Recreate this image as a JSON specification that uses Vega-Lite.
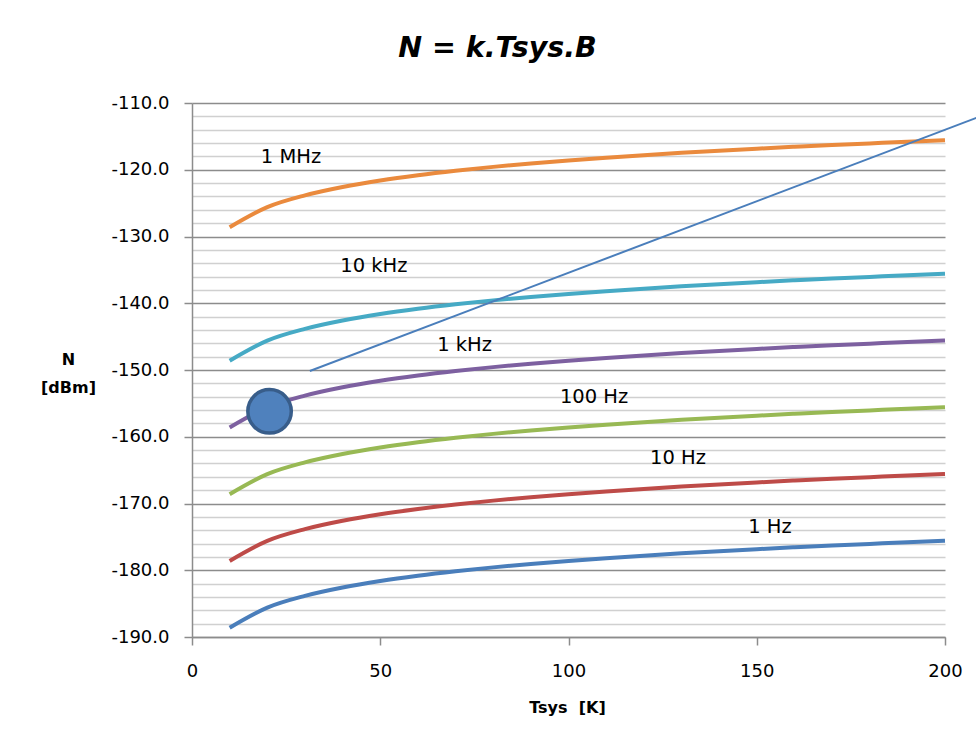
{
  "$schema": "https://vega.github.io/schema/vega-lite/v6.json",
  "width": 753,
  "height": 534,
  "autosize": "none",
  "padding": {"left": 192, "top": 103, "right": 31, "bottom": 104},
  "background": "white",
  "title": {"text": "N = k.Tsys.B", "font": "DejaVu Sans", "fontSize": 28.5, "fontWeight": "bold", "fontStyle": "italic", "anchor": "middle", "dx": -71, "offset": 9, "baseline": "alphabetic", "color": "#000000"},
  "config": {
    "view": {"stroke": null},
    "axis": {"labelFont": "DejaVu Sans", "labelFontSize": 18, "labelColor": "#000000", "titleFont": "DejaVu Sans", "titleFontSize": 16, "titleFontWeight": "bold", "titleColor": "#000000", "domainColor": "#8c8c8c", "domainWidth": 1.5, "tickColor": "#8c8c8c", "tickWidth": 1.5, "tickSize": 8, "labelFlush": false, "labelOverlap": false}
  },
  "datasets": {
    "curves": [
      {"T":10,"B":"1 Hz","N":-188.60},{"T":20,"B":"1 Hz","N":-185.59},{"T":30,"B":"1 Hz","N":-183.83},{"T":40,"B":"1 Hz","N":-182.58},{"T":50,"B":"1 Hz","N":-181.61},{"T":60,"B":"1 Hz","N":-180.82},{"T":70,"B":"1 Hz","N":-180.15},{"T":80,"B":"1 Hz","N":-179.57},{"T":90,"B":"1 Hz","N":-179.06},{"T":100,"B":"1 Hz","N":-178.60},{"T":110,"B":"1 Hz","N":-178.19},{"T":120,"B":"1 Hz","N":-177.81},{"T":130,"B":"1 Hz","N":-177.46},{"T":140,"B":"1 Hz","N":-177.14},{"T":150,"B":"1 Hz","N":-176.84},{"T":160,"B":"1 Hz","N":-176.56},{"T":170,"B":"1 Hz","N":-176.29},{"T":180,"B":"1 Hz","N":-176.05},{"T":190,"B":"1 Hz","N":-175.81},{"T":200,"B":"1 Hz","N":-175.59},
      {"T":10,"B":"10 Hz","N":-178.60},{"T":20,"B":"10 Hz","N":-175.59},{"T":30,"B":"10 Hz","N":-173.83},{"T":40,"B":"10 Hz","N":-172.58},{"T":50,"B":"10 Hz","N":-171.61},{"T":60,"B":"10 Hz","N":-170.82},{"T":70,"B":"10 Hz","N":-170.15},{"T":80,"B":"10 Hz","N":-169.57},{"T":90,"B":"10 Hz","N":-169.06},{"T":100,"B":"10 Hz","N":-168.60},{"T":110,"B":"10 Hz","N":-168.19},{"T":120,"B":"10 Hz","N":-167.81},{"T":130,"B":"10 Hz","N":-167.46},{"T":140,"B":"10 Hz","N":-167.14},{"T":150,"B":"10 Hz","N":-166.84},{"T":160,"B":"10 Hz","N":-166.56},{"T":170,"B":"10 Hz","N":-166.29},{"T":180,"B":"10 Hz","N":-166.05},{"T":190,"B":"10 Hz","N":-165.81},{"T":200,"B":"10 Hz","N":-165.59},
      {"T":10,"B":"100 Hz","N":-168.60},{"T":20,"B":"100 Hz","N":-165.59},{"T":30,"B":"100 Hz","N":-163.83},{"T":40,"B":"100 Hz","N":-162.58},{"T":50,"B":"100 Hz","N":-161.61},{"T":60,"B":"100 Hz","N":-160.82},{"T":70,"B":"100 Hz","N":-160.15},{"T":80,"B":"100 Hz","N":-159.57},{"T":90,"B":"100 Hz","N":-159.06},{"T":100,"B":"100 Hz","N":-158.60},{"T":110,"B":"100 Hz","N":-158.19},{"T":120,"B":"100 Hz","N":-157.81},{"T":130,"B":"100 Hz","N":-157.46},{"T":140,"B":"100 Hz","N":-157.14},{"T":150,"B":"100 Hz","N":-156.84},{"T":160,"B":"100 Hz","N":-156.56},{"T":170,"B":"100 Hz","N":-156.29},{"T":180,"B":"100 Hz","N":-156.05},{"T":190,"B":"100 Hz","N":-155.81},{"T":200,"B":"100 Hz","N":-155.59},
      {"T":10,"B":"1 kHz","N":-158.60},{"T":20,"B":"1 kHz","N":-155.59},{"T":30,"B":"1 kHz","N":-153.83},{"T":40,"B":"1 kHz","N":-152.58},{"T":50,"B":"1 kHz","N":-151.61},{"T":60,"B":"1 kHz","N":-150.82},{"T":70,"B":"1 kHz","N":-150.15},{"T":80,"B":"1 kHz","N":-149.57},{"T":90,"B":"1 kHz","N":-149.06},{"T":100,"B":"1 kHz","N":-148.60},{"T":110,"B":"1 kHz","N":-148.19},{"T":120,"B":"1 kHz","N":-147.81},{"T":130,"B":"1 kHz","N":-147.46},{"T":140,"B":"1 kHz","N":-147.14},{"T":150,"B":"1 kHz","N":-146.84},{"T":160,"B":"1 kHz","N":-146.56},{"T":170,"B":"1 kHz","N":-146.29},{"T":180,"B":"1 kHz","N":-146.05},{"T":190,"B":"1 kHz","N":-145.81},{"T":200,"B":"1 kHz","N":-145.59},
      {"T":10,"B":"10 kHz","N":-148.60},{"T":20,"B":"10 kHz","N":-145.59},{"T":30,"B":"10 kHz","N":-143.83},{"T":40,"B":"10 kHz","N":-142.58},{"T":50,"B":"10 kHz","N":-141.61},{"T":60,"B":"10 kHz","N":-140.82},{"T":70,"B":"10 kHz","N":-140.15},{"T":80,"B":"10 kHz","N":-139.57},{"T":90,"B":"10 kHz","N":-139.06},{"T":100,"B":"10 kHz","N":-138.60},{"T":110,"B":"10 kHz","N":-138.19},{"T":120,"B":"10 kHz","N":-137.81},{"T":130,"B":"10 kHz","N":-137.46},{"T":140,"B":"10 kHz","N":-137.14},{"T":150,"B":"10 kHz","N":-136.84},{"T":160,"B":"10 kHz","N":-136.56},{"T":170,"B":"10 kHz","N":-136.29},{"T":180,"B":"10 kHz","N":-136.05},{"T":190,"B":"10 kHz","N":-135.81},{"T":200,"B":"10 kHz","N":-135.59},
      {"T":10,"B":"1 MHz","N":-128.60},{"T":20,"B":"1 MHz","N":-125.59},{"T":30,"B":"1 MHz","N":-123.83},{"T":40,"B":"1 MHz","N":-122.58},{"T":50,"B":"1 MHz","N":-121.61},{"T":60,"B":"1 MHz","N":-120.82},{"T":70,"B":"1 MHz","N":-120.15},{"T":80,"B":"1 MHz","N":-119.57},{"T":90,"B":"1 MHz","N":-119.06},{"T":100,"B":"1 MHz","N":-118.60},{"T":110,"B":"1 MHz","N":-118.19},{"T":120,"B":"1 MHz","N":-117.81},{"T":130,"B":"1 MHz","N":-117.46},{"T":140,"B":"1 MHz","N":-117.14},{"T":150,"B":"1 MHz","N":-116.84},{"T":160,"B":"1 MHz","N":-116.56},{"T":170,"B":"1 MHz","N":-116.29},{"T":180,"B":"1 MHz","N":-116.05},{"T":190,"B":"1 MHz","N":-115.81},{"T":200,"B":"1 MHz","N":-115.59}
    ],
    "labels": [
      {"T":26.3,"N":-118.1,"label":"1 MHz"},
      {"T":48.3,"N":-134.4,"label":"10 kHz"},
      {"T":72.4,"N":-146.25,"label":"1 kHz"},
      {"T":106.8,"N":-154.05,"label":"100 Hz"},
      {"T":129.1,"N":-163.2,"label":"10 Hz"},
      {"T":153.5,"N":-173.5,"label":"1 Hz"}
    ],
    "annot": [
      {"T":31.3,"N":-150.15},
      {"T":210,"N":-111.87}
    ],
    "marker": [
      {"T":20.6,"N":-156.19}
    ]
  },
  "layer": [
    {
      "data": {"name": "curves"},
      "mark": {"type": "line", "strokeWidth": 4, "interpolate": "monotone"},
      "encoding": {
        "x": {"field": "T", "type": "quantitative", "scale": {"domain": [0, 200], "nice": false, "zero": false},
          "axis": {"values": [0, 50, 100, 150, 200], "tickCount": 50, "grid": false, "title": "Tsys\u00a0\u00a0[K]", "labelPadding": 17, "titleX": 375, "titleY": 75, "titleBaseline": "alphabetic", "titleAnchor": "middle", "titleAlign": "center"}},
        "y": {"field": "N", "type": "quantitative", "scale": {"domain": [-190, -110], "nice": false, "zero": false},
          "axis": {
            "values": [-190,-188,-186,-184,-182,-180,-178,-176,-174,-172,-170,-168,-166,-164,-162,-160,-158,-156,-154,-152,-150,-148,-146,-144,-142,-140,-138,-136,-134,-132,-130,-128,-126,-124,-122,-120,-118,-116,-114,-112,-110],
            "tickCount": 100,
            "labelExpr": "datum.value % 10 === 0 ? ('' + datum.value + '.0') : ''",
            "grid": true,
            "gridWidth": 1.5,
            "gridColor": {"condition": {"test": "datum.value % 10 === 0", "value": "#8c8c8c"}, "value": "#d0d0d0"},
            "tickOpacity": {"condition": {"test": "datum.value % 10 === 0", "value": 1}, "value": 0},
            "labelPadding": 15,
            "title": ["N", "[dBm]"],
            "titleAngle": 0,
            "titleX": -124,
            "titleY": 261,
            "titleAlign": "center",
            "titleBaseline": "alphabetic",
            "titleLineHeight": 28
          }},
        "color": {"field": "B", "type": "nominal", "legend": null,
          "scale": {"domain": ["1 Hz", "10 Hz", "100 Hz", "1 kHz", "10 kHz", "1 MHz"], "range": ["#4a7ebb", "#be4b48", "#98b954", "#7d60a0", "#46aac5", "#ea8a3d"]}}
      }
    },
    {
      "data": {"name": "labels"},
      "mark": {"type": "text", "font": "DejaVu Sans", "fontSize": 19.5, "color": "#000000", "align": "center", "baseline": "middle"},
      "encoding": {
        "x": {"field": "T", "type": "quantitative", "scale": {"domain": [0, 200], "nice": false, "zero": false}},
        "y": {"field": "N", "type": "quantitative", "scale": {"domain": [-190, -110], "nice": false, "zero": false}},
        "text": {"field": "label", "type": "nominal"}
      }
    },
    {
      "data": {"name": "annot"},
      "mark": {"type": "line", "strokeWidth": 2, "color": "#4a7ebb"},
      "encoding": {
        "x": {"field": "T", "type": "quantitative", "scale": {"domain": [0, 200], "nice": false, "zero": false}},
        "y": {"field": "N", "type": "quantitative", "scale": {"domain": [-190, -110], "nice": false, "zero": false}}
      }
    },
    {
      "data": {"name": "marker"},
      "mark": {"type": "point", "shape": "circle", "filled": true, "size": 1890, "fill": "#4f81bd", "stroke": "#385d8a", "strokeWidth": 3.5, "opacity": 1, "fillOpacity": 1},
      "encoding": {
        "x": {"field": "T", "type": "quantitative", "scale": {"domain": [0, 200], "nice": false, "zero": false}},
        "y": {"field": "N", "type": "quantitative", "scale": {"domain": [-190, -110], "nice": false, "zero": false}}
      }
    }
  ]
}
